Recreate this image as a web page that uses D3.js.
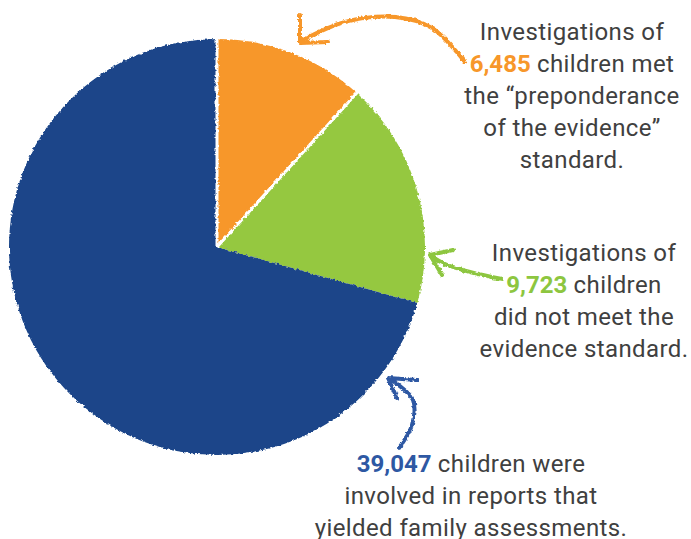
<!DOCTYPE html>
<html lang="en">
<head>
  <meta charset="UTF-8" />
  <title>Investigations pie</title>
  <script src="https://d3js.org/d3.v7.min.js"></script>
  <style>
    body { margin: 0; background: #fff; }
    svg { display: block; }
    .note { font-family: Roboto, "Open Sans", sans-serif; font-size: 24px; letter-spacing: 0.4px; fill: #404040; }
    .num { font-weight: 700; letter-spacing: 0; }
  </style>
</head>
<body>
  <div id="chart"></div>
  <script>
    // ----- Data -----
    const categories = ["Met preponderance", "Did not meet", "Family assessments"];
    const counts = [6485, 9723, 39047];
    const sliceColors = ["#f7972a", "#95c840", "#1a4589"];
    const accentColors = ["#f7972a", "#8dc63f", "#2e58a3"];
    const numberLabels = ["6,485", "9,723", "39,047"];
    // callout text lines; {n} marks where the coloured number goes
    const callouts = [
      ["Investigations of", "{n} children met", "the \u201cpreponderance", "of the evidence\u201d", "standard."],
      ["Investigations of", "{n} children", "did not meet the", "evidence standard."],
      ["{n} children were", "involved in reports that", "yielded family assessments."]
    ];

    const width = 691, height = 539;
    const svg = d3.select('#chart').append('svg')
      .attr('width', width).attr('height', height);

    // rough, hand-cut edge
    const defs = svg.append('defs');
    const f = defs.append('filter').attr('id', 'rough')
      .attr('x', '-5%').attr('y', '-5%').attr('width', '110%').attr('height', '110%');
    f.append('feTurbulence').attr('type', 'fractalNoise')
      .attr('baseFrequency', 0.35).attr('numOctaves', 2).attr('seed', 3).attr('result', 'n');
    f.append('feDisplacementMap').attr('in', 'SourceGraphic').attr('in2', 'n')
      .attr('scale', 3.5).attr('xChannelSelector', 'R').attr('yChannelSelector', 'G');

    // ----- Pie -----
    const cx = 217, cy = 247, R = 208;
    const pie = d3.pie().sort(null).value(d => d);
    const arc = d3.arc().innerRadius(0).outerRadius(R);
    const g = svg.append('g').attr('transform', `translate(${cx},${cy})`)
      .attr('filter', 'url(#rough)');

    const arcs = pie(counts);
    g.selectAll('path.slice').data(arcs).join('path')
      .attr('class', 'slice')
      .attr('d', arc)
      .attr('fill', (d, i) => sliceColors[i]);

    // white cut lines around the orange slice
    const o = arcs[0];
    [o.startAngle, o.endAngle].forEach(a => {
      g.append('line')
        .attr('x1', 0).attr('y1', 0)
        .attr('x2', Math.sin(a) * (R + 4)).attr('y2', -Math.cos(a) * (R + 4))
        .attr('stroke', '#fff').attr('stroke-width', 3);
    });

    // ----- Arrows -----
    const arrows = [
      { shaft: [[465, 62], [432, 28], [395, 17], [345, 22], [303, 40]],
        head: [[300, 15], [300, 43], [328, 42]] },
      { shaft: [[502, 279], [470, 272], [445, 264], [431, 256]],
        head: [[453, 250], [430, 255], [442, 275]] },
      { shaft: [[399, 448], [412, 425], [413, 400], [390, 379]],
        head: [[417, 380], [388, 378], [397, 398]] }
    ];
    const curve = d3.line().curve(d3.curveCatmullRom.alpha(0.5));
    const straight = d3.line();
    arrows.forEach((a, i) => {
      const ag = svg.append('g').attr('filter', 'url(#rough)')
        .attr('stroke', accentColors[i]).attr('fill', 'none')
        .attr('stroke-linecap', 'round').attr('stroke-linejoin', 'round');
      ag.append('path').attr('d', curve(a.shaft)).attr('stroke-width', 4);
      ag.append('path').attr('d', straight(a.head)).attr('stroke-width', 4);
    });

    // ----- Callout text -----
    const blocks = [
      { x: 572, y: 40, dy: 32 },
      { x: 584, y: 261, dy: 32 },
      { x: 471, y: 472, dy: 32 }
    ];
    callouts.forEach((lines, i) => {
      const b = blocks[i];
      const t = svg.append('text').attr('class', 'note').attr('text-anchor', 'middle');
      lines.forEach((line, j) => {
        const parts = line.split('{n}');
        const first = t.append('tspan').attr('x', b.x).attr('y', b.y + j * b.dy);
        if (parts.length === 1) {
          first.text(line);
        } else {
          first.attr('class', 'num').attr('fill', accentColors[i]).text(numberLabels[i]);
          t.append('tspan').text(parts[1]);
        }
      });
    });
  </script>
</body>
</html>
